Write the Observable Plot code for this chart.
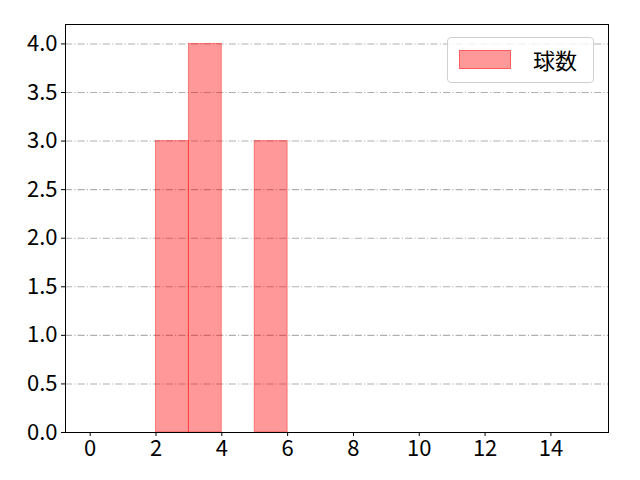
<!DOCTYPE html>
<html>
<head>
<meta charset="utf-8">
<script src="https://cdn.jsdelivr.net/npm/d3@7"></script>
<script src="https://cdn.jsdelivr.net/npm/@observablehq/plot@0.6"></script>
<style>
  html, body { margin: 0; padding: 0; background: #fff; }
  #wrap { position: relative; width: 640px; height: 480px; font-family: "Noto Sans CJK JP", sans-serif; }
  #legend { position: absolute; left: 447px; top: 37px; width: 147px; height: 46px; border: 1px solid #d0d0d0; border-radius: 4px; background: rgba(255,255,255,0.8); box-sizing: border-box; }
  #legend .sw { position: absolute; left: 11px; top: 12px; width: 52px; height: 19px; background: rgba(255,0,0,0.4); border: 1px solid rgba(255,0,0,0.4); box-sizing: border-box; }
  #legend .lb { position: absolute; left: 85px; top: 5px; font-size: 22px; line-height: 32px; color: #000; }
</style>
</head>
<body>
<div id="wrap"></div>
<script>
const seriesName = "球数";
const binStarts = [2, 3, 5];
const binEnds = [3, 4, 6];
const counts = [3, 4, 3];
const xTicks = [0, 2, 4, 6, 8, 10, 12, 14];
const yTicks = [0, 0.5, 1.0, 1.5, 2.0, 2.5, 3.0, 3.5, 4.0];

const bins = binStarts.map((s, i) => ({x1: s, x2: binEnds[i], y: counts[i]}));

const chart = Plot.plot({
  width: 640,
  height: 480,
  marginLeft: 65,
  marginRight: 32,
  marginTop: 24,
  marginBottom: 48,
  style: {fontFamily: "'Noto Sans CJK JP', sans-serif", fontSize: "22px", color: "#000", background: "#fff"},
  x: {domain: [-0.75, 15.75], ticks: xTicks, tickFormat: d => String(d), label: null},
  y: {domain: [0, 4.2], ticks: yTicks, tickFormat: d => d.toFixed(1), label: null},
  marks: [
    Plot.ruleY(yTicks.filter(d => d > 0), {stroke: "#b0b0b0", strokeWidth: 1.1, strokeDasharray: "7.1,2.2,1.1,2.2"}),
    Plot.rectY(bins, {x1: "x1", x2: "x2", y: "y", fill: "red", fillOpacity: 0.4, stroke: "red", strokeOpacity: 0.4, strokeWidth: 1, inset: 0}),
    Plot.axisX({ticks: xTicks, tickSize: 4, tickPadding: 4, tickFormat: d => String(d), fontSize: 22, label: null}),
    Plot.axisY({ticks: yTicks, tickSize: 4, tickPadding: 4, tickFormat: d => d.toFixed(1), fontSize: 22, label: null}),
    Plot.frame({stroke: "#000", strokeWidth: 1})
  ]
});

const wrap = document.getElementById("wrap");
wrap.appendChild(chart);
const lg = document.createElement("div");
lg.id = "legend";
lg.innerHTML = '<div class="sw"></div><div class="lb"></div>';
lg.querySelector(".lb").textContent = seriesName;
wrap.appendChild(lg);
</script>
</body>
</html>
